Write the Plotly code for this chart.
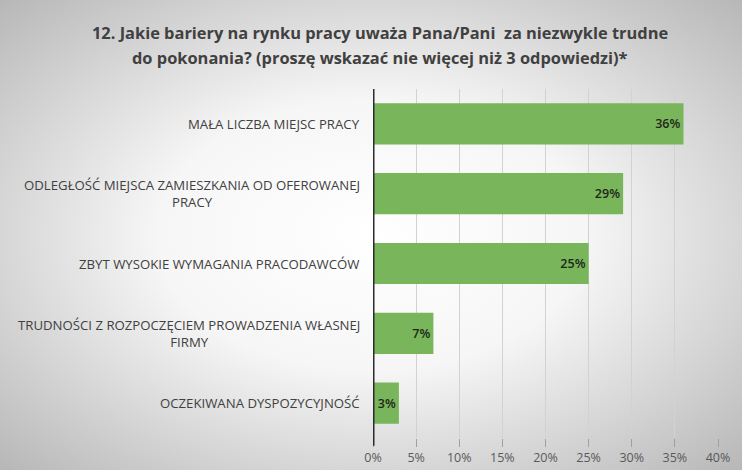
import plotly.graph_objects as go
import urllib.parse

categories = [
    "MAŁA LICZBA MIEJSC PRACY",
    "ODLEGŁOŚĆ MIEJSCA ZAMIESZKANIA OD OFEROWANEJ<br>PRACY",
    "ZBYT WYSOKIE WYMAGANIA PRACODAWCÓW",
    "TRUDNOŚCI Z ROZPOCZĘCIEM PROWADZENIA WŁASNEJ<br>FIRMY",
    "OCZEKIWANA DYSPOZYCYJNOŚĆ",
]
values = [36, 29, 25, 7, 3]
tick_vals = [0, 5, 10, 15, 20, 25, 30, 35, 40]
tick_text = ["0%", "5%", "10%", "15%", "20%", "25%", "30%", "35%", "40%"]
title_lines = ["12. Jakie bariery na rynku pracy uważa Pana/Pani  za niezwykle trudne",
               "do pokonania? (proszę wskazać nie więcej niż 3 odpowiedzi)*"]

W, H = 742, 470
ml, mr, mt, mb = 373, 24, 89, 32
pw, ph = W - ml - mr, H - mt - mb

svg = ('<svg xmlns="http://www.w3.org/2000/svg" width="742" height="470" viewBox="0 0 742 470" preserveAspectRatio="none">'
       '<defs><radialGradient id="g" cx="50%" cy="50%" r="72%">'
       '<stop offset="0" stop-color="#ffffff"/><stop offset="0.4" stop-color="#f6f6f6"/>'
       '<stop offset="1" stop-color="#b5b5b5"/></radialGradient></defs>'
       '<rect width="742" height="470" fill="url(#g)"/></svg>')
src = "data:image/svg+xml;charset=utf-8," + urllib.parse.quote(svg)

fig = go.Figure()
fig.add_trace(go.Bar(
    y=categories, x=values, orientation="h",
    marker=dict(color="#79b55a", line=dict(width=0)),
    width=0.59,
    text=[f"{v}%" for v in values],
    textposition="inside", insidetextanchor="end",
    textfont=dict(family="Open Sans", size=12.5, color="#1e261a", weight=600),
    cliponaxis=False,
    hoverinfo="skip",
))

annotations = []
for c in categories:
    annotations.append(dict(
        xref="paper", yref="y", x=0, y=c, xanchor="right", yanchor="middle",
        xshift=-11, text=c, showarrow=False, align="center",
        font=dict(family="Open Sans", size=13.2, color="#404040"),
    ))
for i, line in enumerate(title_lines):
    ypx = 33 + 25 * i
    annotations.append(dict(
        xref="paper", yref="paper", x=(380 - ml) / pw, y=1 + (mt - ypx) / ph,
        xanchor="center", yanchor="middle", text=line, showarrow=False,
        font=dict(family="Open Sans", size=16.4, color="#404040", weight="bold"),
    ))

fig.update_layout(
    width=W, height=H,
    margin=dict(l=ml, r=mr, t=mt, b=mb),
    paper_bgcolor="#e2e2e2",
    plot_bgcolor="rgba(0,0,0,0)",
    showlegend=False,
    xaxis=dict(range=[0, 40], tickvals=tick_vals, ticktext=tick_text,
               showgrid=True, gridcolor="#d2d2d2", gridwidth=1,
               ticks="outside", ticklen=8, tickcolor="#a0a0a0", tickwidth=1,
               tickfont=dict(family="Open Sans", size=12.5, color="#595959"),
               zeroline=False, showline=False, fixedrange=True, automargin=False),
    yaxis=dict(categoryorder="array", categoryarray=categories[::-1],
               showticklabels=False, showgrid=False, zeroline=False,
               showline=False, ticks="", fixedrange=True, automargin=False),
    annotations=annotations,
    shapes=[dict(type="line", xref="x", yref="paper", x0=0, x1=0, y0=-0.022, y1=1,
                 line=dict(color="#2b2b2b", width=3))],
    images=[dict(source=src, xref="paper", yref="paper",
                 x=-ml / pw, y=1 + mt / ph, sizex=W / pw, sizey=H / ph,
                 xanchor="left", yanchor="top", sizing="stretch", layer="below")],
    bargap=0.41,
)

fig.write_html("out.html", config={"displayModeBar": False},
               post_script="document.body.style.margin='0';document.body.style.overflow='hidden';")
